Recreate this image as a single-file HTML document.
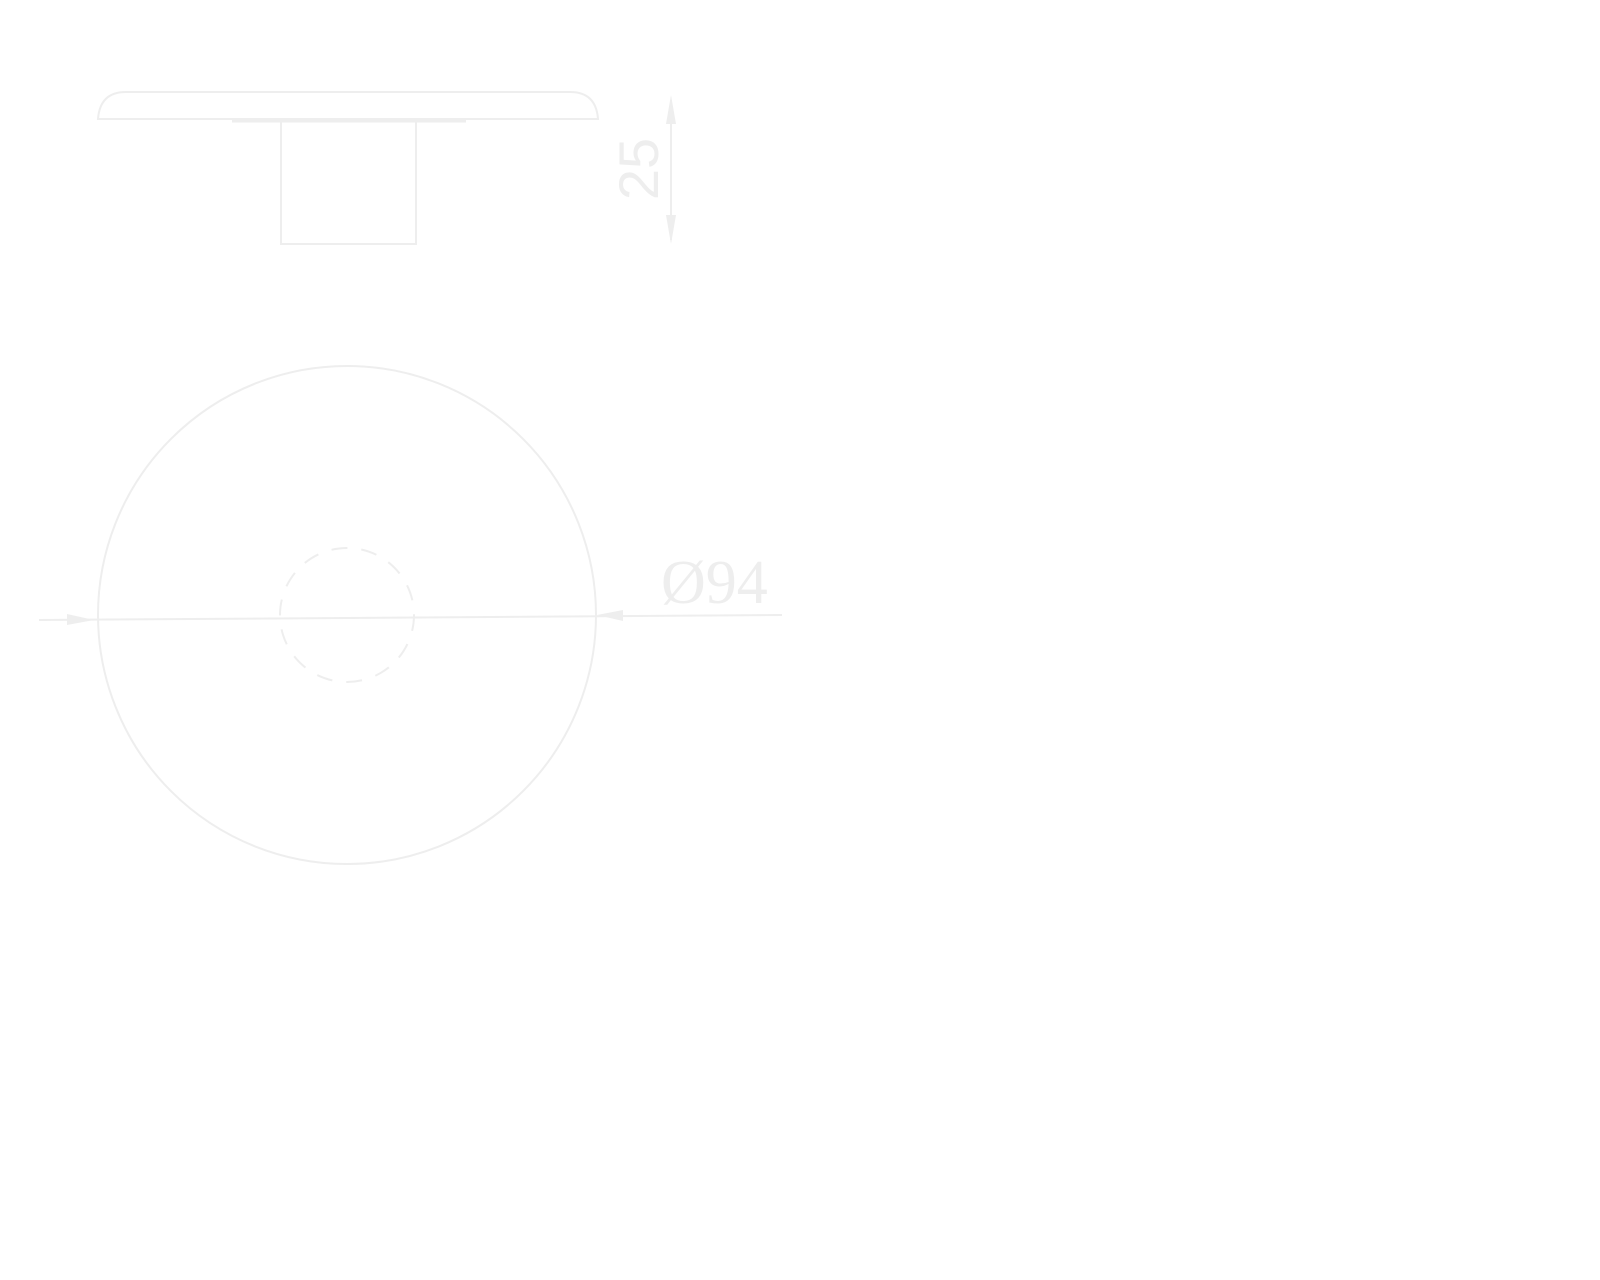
<!DOCTYPE html>
<html><head><meta charset="utf-8"><style>html,body{margin:0;padding:0;background:#fff}svg{display:block}</style></head>
<body>
<svg width="1600" height="1280" viewBox="0 0 1600 1280" xmlns="http://www.w3.org/2000/svg">
<g fill="none" stroke="#eeeeee" stroke-width="2">
  <path d="M98 119 Q100 92 126 92 L570 92 Q596 92 598 119 Z"/>
  <line x1="232" y1="121" x2="466" y2="121" stroke-width="3"/>
  <rect x="281" y="121" width="135" height="123"/>
  <line x1="671" y1="100" x2="671" y2="240"/>
  <circle cx="347" cy="615" r="249"/>
  <circle cx="347" cy="615" r="67" stroke-dasharray="16 14"/>
  <line x1="39" y1="620" x2="347" y2="618"/>
  <line x1="347" y1="618" x2="782" y2="615"/>
</g>
<g fill="#eeeeee">
  <polygon points="671,95 666,124 676,124"/>
  <polygon points="671,244 666,215 676,215"/>
  <polygon points="94,620 67,614 67,625"/>
  <polygon points="597,615 623,610 623,621"/>
</g>
<text x="0" y="0" transform="translate(658,169) rotate(-90)" text-anchor="middle" font-family="Liberation Sans, sans-serif" font-size="56" fill="#eeeeee">25</text>
<text x="661" y="603" font-family="Liberation Serif, serif" font-size="62" fill="#eeeeee">Ø94</text>
</svg>
</body></html>
